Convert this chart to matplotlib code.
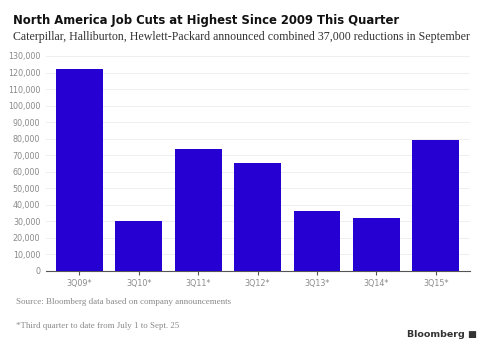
from matplotlib import pyplot as plt
import numpy as np

# data
quarters = ["3Q09*", "3Q10*", "3Q11*", "3Q12*", "3Q13*", "3Q14*", "3Q15*"]
job_cuts = [122000, 30000, 74000, 65000, 36000, 32000, 79000]
y_ticks = list(range(0, 130001, 10000))

bar_color = "#2600d2"
grey = "#8a8a8a"

fig = plt.figure(figsize=(4.88, 3.5), dpi=100)
ax = fig.add_axes([0.094, 0.226, 0.869, 0.614])

x = np.arange(len(quarters))
ax.bar(x, job_cuts, width=0.79, color=bar_color, zorder=3)

ax.set_xlim(-0.564, 6.574)
ax.set_ylim(0, 130000)
ax.set_yticks(y_ticks)
ax.set_yticklabels([f"{v:,}" for v in y_ticks])
ax.set_xticks(x)
ax.set_xticklabels(quarters)
ax.tick_params(axis="both", labelsize=5.8, colors=grey, length=0, pad=4)
ax.tick_params(axis="x", length=3, color="#555555", pad=3)
ax.grid(axis="y", color="#ececec", linewidth=0.6, zorder=0)
for side in ["top", "right", "left"]:
    ax.spines[side].set_visible(False)
ax.spines["bottom"].set_color("#555555")
ax.spines["bottom"].set_linewidth(0.8)

fig.text(0.027, 0.942, "North America Job Cuts at Highest Since 2009 This Quarter",
         fontsize=8.4, fontweight="bold", color="#111111", va="center")
fig.text(0.027, 0.893, "Caterpillar, Halliburton, Hewlett-Packard announced combined 37,000 reductions in September",
         fontsize=8.6, family="Liberation Serif", color="#333333", va="center")
fig.text(0.032, 0.137, "Source: Bloomberg data based on company announcements",
         fontsize=6.5, family="Liberation Serif", color=grey, va="center")
fig.text(0.032, 0.068, "*Third quarter to date from July 1 to Sept. 25",
         fontsize=6.4, family="Liberation Serif", color=grey, va="center")
fig.text(0.978, 0.043, "Bloomberg \u25A0", fontsize=6.8, fontweight="bold",
         color="#333333", ha="right", va="center")

fig.savefig("out.png", dpi=100)
